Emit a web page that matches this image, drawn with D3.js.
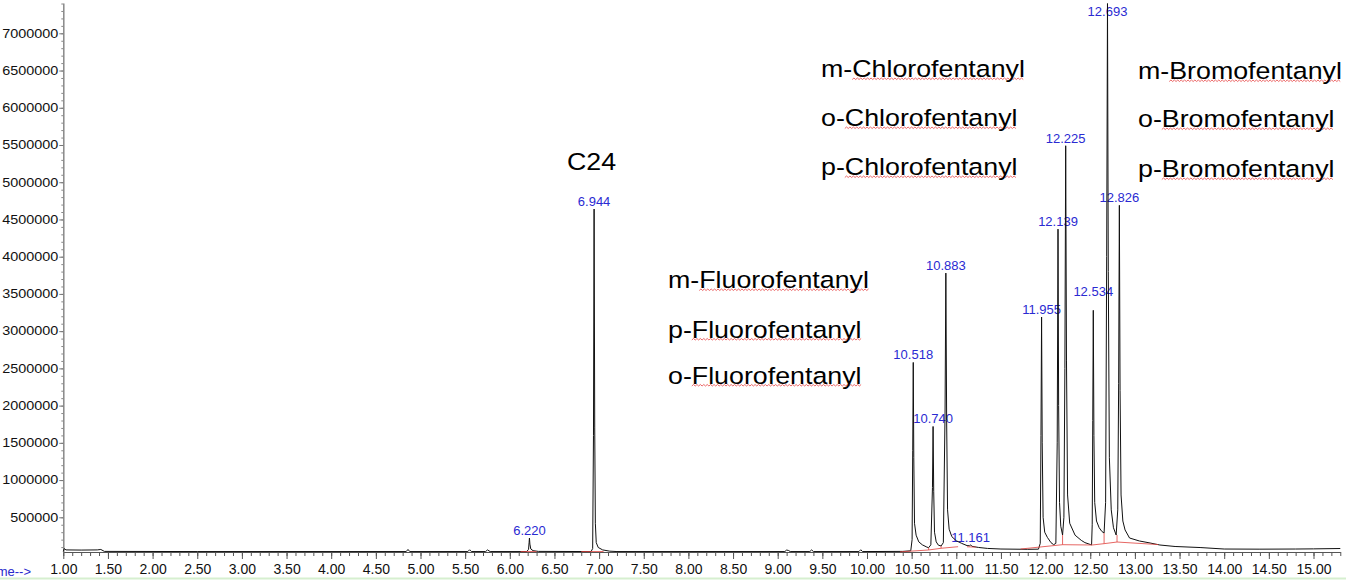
<!DOCTYPE html>
<html><head><meta charset="utf-8">
<script src="https://cdn.jsdelivr.net/npm/d3@7"></script>
<style>html,body{margin:0;padding:0;background:#fff;overflow:hidden}</style>
</head><body><svg id="c" width="1346" height="580"></svg>
<script>
// ---- data ----
const xTickValues = [1.00,1.50,2.00,2.50,3.00,3.50,4.00,4.50,5.00,5.50,6.00,6.50,7.00,7.50,8.00,8.50,9.00,9.50,10.00,10.50,11.00,11.50,12.00,12.50,13.00,13.50,14.00,14.50,15.00];
const yTickValues = [500000,1000000,1500000,2000000,2500000,3000000,3500000,4000000,4500000,5000000,5500000,6000000,6500000,7000000];

// chromatogram trace [retention time (min), abundance]
const trace = [
[1.00,40000],[1.01,80000],[1.03,62000],[1.20,60000],[1.38,62000],[1.42,68000],[1.46,42000],
[2.50,40000],[4.84,40000],[4.86,68000],[4.88,40000],
[5.53,40000],[5.55,64000],[5.57,40000],[5.73,40000],[5.75,62000],[5.78,40000],
[6.19,40000],[6.21,70000],[6.216,160000],[6.220,222000],[6.225,140000],[6.235,75000],[6.26,52000],[6.32,42000],
[6.91,40000],[6.928,80000],[6.937,1600000],[6.944,4640000],[6.951,1700000],[6.958,420000],[6.968,160000],[6.99,95000],[7.04,62000],[7.12,45000],[7.20,40000],
[9.08,40000],[9.10,60000],[9.12,55000],[9.14,40000],[9.36,40000],[9.38,62000],[9.40,40000],[9.91,40000],[9.93,64000],[9.95,40000],
[10.40,42000],[10.49,50000],[10.505,200000],[10.512,1400000],[10.518,2580000],[10.524,1300000],[10.532,420000],[10.55,260000],[10.58,170000],[10.62,130000],[10.67,100000],[10.69,92000],
[10.715,130000],[10.733,900000],[10.740,1720000],[10.747,850000],[10.756,300000],[10.775,170000],[10.80,125000],[10.83,115000],
[10.855,160000],[10.874,1900000],[10.883,3780000],[10.892,1800000],[10.902,600000],[10.92,340000],[10.95,240000],[11.00,185000],[11.06,150000],[11.12,120000],[11.15,118000],[11.161,130000],[11.175,110000],[11.25,95000],[11.35,82000],[11.50,74000],[11.80,70000],[11.92,72000],
[11.94,150000],[11.948,1600000],[11.955,3190000],[11.962,1500000],[11.972,500000],[11.99,300000],[12.02,230000],[12.06,160000],[12.09,132000],[12.115,150000],
[12.13,1500000],[12.139,4370000],[12.146,2000000],[12.156,700000],[12.17,380000],[12.19,262000],
[12.205,500000],[12.216,2500000],[12.225,5490000],[12.234,2600000],[12.246,800000],[12.27,420000],[12.33,260000],[12.40,190000],[12.44,160000],[12.50,135000],[12.515,130000],
[12.522,400000],[12.528,1800000],[12.534,3280000],[12.541,1600000],[12.55,700000],[12.57,450000],[12.60,360000],[12.63,310000],[12.655,289000],
[12.672,700000],[12.684,4000000],[12.693,7400000],[12.702,3800000],[12.714,1300000],[12.735,600000],[12.76,360000],[12.79,262000],
[12.808,600000],[12.818,2300000],[12.826,4690000],[12.834,2200000],[12.845,800000],[12.865,450000],[12.89,330000],[12.94,222000],[13.05,182000],[13.17,155000],[13.28,128000],[13.45,108000],[13.73,94000],[14.00,74000],[14.40,72000],[14.80,74000],[15.00,76000],[15.30,81000]
];

const peakRT = ["6.220","6.944","10.518","10.740","10.883","11.161","11.955","12.139","12.225","12.534","12.693","12.826"];
const peakApex = [222000,4640000,2580000,1720000,3780000,130000,3190000,4370000,5490000,3280000,7400000,4690000];

// integration baselines (red)
const integBaselines = [
  [[6.12,40000],[6.30,40000]],
  [[6.80,40000],[7.05,40000]],
  [[10.37,36000],[10.69,61000],[10.83,84000],[11.02,105000]],
  [[11.12,104000],[11.22,100000]],
  [[11.72,74000],[12.19,132000],[12.52,128000],[12.655,146000],[12.80,168000],[13.26,134000]]
];
const dropLines = [[10.69,61000,92000],[10.83,84000,115000],[12.19,132000,262000],[12.655,146000,289000],[12.80,168000,262000]];

const fluoroNames = ["m-Fluorofentanyl","p-Fluorofentanyl","o-Fluorofentanyl"];
const chloroNames = ["m-Chlorofentanyl","o-Chlorofentanyl","p-Chlorofentanyl"];
const bromoNames  = ["m-Bromofentanyl","o-Bromofentanyl","p-Bromofentanyl"];
const standardName = ["C24"];

// ---- drawing ----
const svg = d3.select("#c");
const FONT = "'Liberation Sans', Arial, sans-serif";
const x = d3.scaleLinear().domain([1.0, 15.30]).range([63.3, 63.3 + 14.3 * 89.3]);
const y = d3.scaleLinear().domain([34000, 7407000]).range([552, 3]);

// bottom green strip
svg.append("line").attr("x1",0).attr("x2",1346).attr("y1",578.5).attr("y2",578.5)
  .attr("stroke","#d6efcf").attr("stroke-width",2);

// x axis minor ticks
const xMinor = d3.range(10, 154).map(d => d / 10);
const gxm = svg.append("g").attr("transform","translate(0,552)")
  .call(d3.axisBottom(x).tickValues(xMinor).tickSize(4).tickSizeOuter(0).tickFormat(""));
gxm.select(".domain").remove();
gxm.selectAll(".tick line").attr("stroke","#555");
// x axis major
const gx = svg.append("g").attr("transform","translate(0,552)")
  .call(d3.axisBottom(x).tickValues(xTickValues).tickSize(7).tickSizeOuter(0).tickPadding(5).tickFormat(d3.format(".2f")));
gx.select(".domain").attr("stroke","#555");
gx.selectAll(".tick line").attr("stroke","#555");
gx.selectAll("text").attr("font-family",FONT).attr("font-size",14).attr("fill","#111");

// y axis minor ticks
const yMinor = d3.range(1, 75).map(d => d * 100000);
const gym = svg.append("g").attr("transform","translate(63.3,0)")
  .call(d3.axisLeft(y).tickValues(yMinor).tickSize(2).tickSizeOuter(0).tickFormat(""));
gym.select(".domain").remove();
gym.selectAll(".tick line").attr("stroke","#888");
const gy = svg.append("g").attr("transform","translate(63.3,0)")
  .call(d3.axisLeft(y).tickValues(yTickValues).tickSize(4).tickSizeOuter(0).tickFormat(d => String(d)));
gy.select(".domain").attr("stroke","#888").attr("stroke-width",1.5);
gy.selectAll(".tick line").attr("stroke","#777");
gy.selectAll("text").attr("font-family",FONT).attr("font-size",12).attr("fill","#111")
  .attr("x",null).attr("transform","translate(-5,0) scale(1.2,1)");

// Time--> label (cut at the left edge, as in the reference)
svg.append("text").attr("x",31).attr("y",576).attr("text-anchor","end")
  .attr("font-family",FONT).attr("font-size",13).attr("fill","#2a2acc").text("Time-->");

// peak labels (under trace)
const labelNudge = {"12.534": 11};
svg.append("g").selectAll("text").data(peakRT).join("text")
  .attr("x", d => x(+d))
  .attr("y", (d,i) => Math.max(16, y(peakApex[i]) - 3 - (labelNudge[d] || 0)))
  .attr("text-anchor","middle").attr("font-family",FONT).attr("font-size",13)
  .attr("fill","#2a2ad2").text(d => d);

// trace
svg.append("path").datum(trace)
  .attr("d", d3.line().x(d => x(d[0])).y(d => y(d[1])))
  .attr("fill","none").attr("stroke","#111").attr("stroke-width",1).attr("stroke-linejoin","round");

// integration baselines
svg.append("g").selectAll("path").data(integBaselines).join("path")
  .attr("d", d3.line().x(d => x(d[0])).y(d => y(d[1])))
  .attr("fill","none").attr("stroke","#e0403c").attr("stroke-width",0.8);
svg.append("g").selectAll("line").data(dropLines).join("line")
  .attr("x1", d => x(d[0])).attr("x2", d => x(d[0]))
  .attr("y1", d => y(d[1])).attr("y2", d => y(d[2]))
  .attr("stroke","#e0403c").attr("stroke-width",0.8);

// compound annotations
function annot(names, x0, baselines, squiggle) {
  names.forEach((name, i) => {
    const g = svg.append("g").attr("transform", `translate(${x0},${baselines[i]}) scale(1.14,1)`);
    const t = g.append("text").attr("x",0).attr("y",0).attr("font-family",FONT)
      .attr("font-size",23.5).attr("fill","#000").text(name);
    if (squiggle) {
      const node = t.node();
      const cut = name.indexOf("-") + 1;
      const start = node.getSubStringLength(0, cut);
      const end = node.getComputedTextLength();
      let d = `M${start},2.5`;
      let k = 0;
      for (let px = start + 1.5; px <= end; px += 1.5) { d += `L${px},${k % 2 ? 2.5 : 1}`; k++; }
      g.insert("path","text").attr("d", d).attr("fill","none").attr("stroke","#e85050").attr("stroke-width",0.8);
    }
  });
}
annot(standardName, 567, [170], false);
annot(fluoroNames, 668, [288, 337.5, 383.5], true);
annot(chloroNames, 821, [77, 126, 175], true);
annot(bromoNames, 1138, [79, 127, 177], true);
</script>
</body></html>
